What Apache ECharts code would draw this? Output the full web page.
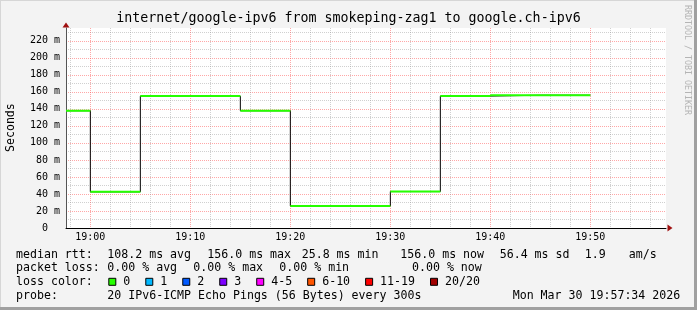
<!DOCTYPE html>
<html>
<head>
<meta charset="utf-8">
<script src="https://cdn.jsdelivr.net/npm/echarts@6.0.0/dist/echarts.min.js"></script>
<style>
html,body{margin:0;padding:0;background:#f3f3f3;}
#chart{width:697px;height:310px;}
</style>
</head>
<body>
<div id="chart"></div>
<script>
// ---------- data ----------
const titleText = 'internet/google-ipv6 from smokeping-zag1 to google.ch-ipv6';
const startTime = '18:57:34';
const endTime = '19:57:34';
const stepSeconds = 300;
const sampleTimes = ['19:00','19:05','19:10','19:15','19:20','19:25','19:30','19:35','19:40','19:45','19:50'];
const medianMs    = [137.8, 42.5, 155.0, 155.0, 137.8, 25.8, 25.8, 42.8, 155.0, 156.0, 156.0];
const xTickLabels = ['19:00','19:10','19:20','19:30','19:40','19:50'];
const yTickLabels = [0,20,40,60,80,100,120,140,160,180,200,220];
const yMax = 235;
const rttLegend  = ['median rtt:','108.2 ms avg','156.0 ms max','25.8 ms min','156.0 ms now','56.4 ms sd','1.9','am/s'];
const lossLegend = ['packet loss:','0.00 % avg','0.00 % max','0.00 % min','0.00 % now'];
const lossLabels = ['0','1','2','3','4-5','6-10','11-19','20/20'];
const lossColors = ['#26ff00','#00b8ff','#0059ff','#7e00ff','#ff00ff','#ff5500','#ff0000','#a10000'];
const probeLegend = ['probe:','20 IPv6-ICMP Echo Pings (56 Bytes) every 300s','Mon Mar 30 19:57:34 2026'];

// ---------- layout ----------
const MONO = "'DejaVu Sans Mono', monospace";
const rttX   = [16,107.3,207.3,301.7,400.3,499.7,584.7,628.7];
const lossX  = [16,107.3,193.3,279.3,412];
const probeX = [16,107.3,512.7];
const rowY = [255,268.3,282.3,296];
const legendFont = 11.6;
const charW = legendFont*0.602;

const toSec = s => { const p = s.split(':').map(Number); return p[0]*3600 + p[1]*60 + (p[2]||0); };
const fmt = v => { const h = Math.floor(v/3600), m = Math.round((v%3600)/60); return String(h).padStart(2,'0')+':'+String(m).padStart(2,'0'); };

const t0 = toSec(startTime), t1 = toSec(endTime);
const black = [], green = [];
sampleTimes.forEach((t,i)=>{
  const e = toSec(t), s = Math.max(e - stepSeconds, t0);
  black.push([s, medianMs[i]], [e, medianMs[i]]);
  green.push([s, medianMs[i]], [e, medianMs[i]], [e, null]);
});
const minorStep = 120;
const xMinor = [];
for (let v = Math.ceil(t0/minorStep)*minorStep; v < t1; v += minorStep) xMinor.push(v);
const xMajor = xTickLabels.map(toSec);
const yMinor = [];
for (let v = 0; v < yMax; v += 10) yMinor.push(v);

const MINOR = 'rgba(150,150,150,0.45)';
const MAJOR = 'rgba(255,80,80,0.5)';
const xColors = xMinor.map(v => (xMajor.indexOf(v) >= 0 ? MAJOR : MINOR));
const yColors = yMinor.map(v => (yTickLabels.indexOf(v) >= 0 ? MAJOR : MINOR));

// ---------- graphics ----------
const graphics = [];
const addText = (text, x, y, opts) => graphics.push(Object.assign({
  type:'text', x, y, silent:true,
  style:{text, font: legendFont+'px '+MONO, fill:'#000', textAlign:'left', textVerticalAlign:'middle'}
}, opts||{}));
rttLegend.forEach((t,i)=>addText(t, rttX[i], rowY[0]));
lossLegend.forEach((t,i)=>addText(t, lossX[i], rowY[1]));
probeLegend.forEach((t,i)=>addText(t, probeX[i], rowY[3]));
addText(lossLegend.length ? 'loss color:' : '', 16, rowY[2]);
let sx = 108.3;
lossLabels.forEach((lab,i)=>{
  graphics.push({type:'rect', silent:true, shape:{x:sx+0.5, y:rowY[2]-4, width:7, height:7},
    style:{fill:lossColors[i], stroke:'#000', lineWidth:1}});
  addText(lab, sx+15, rowY[2]);
  sx += 15 + lab.length*charW + 15;
});
graphics.push({type:'text', x:11, y:127.6, rotation:Math.PI/2, silent:true,
  style:{text:'Seconds', font:legendFont+'px '+MONO, fill:'#000', textAlign:'center', textVerticalAlign:'middle'}});
graphics.push({type:'text', x:687.5, y:60, rotation:-Math.PI/2, silent:true,
  style:{text:'RRDTOOL / TOBI OETIKER', font:'8.3px '+MONO, fill:'#b4b4b4', textAlign:'center', textVerticalAlign:'middle'}});
// frame
graphics.push({type:'rect', silent:true, z:100, shape:{x:0,y:0,width:697,height:1}, style:{fill:'#d6d6d6'}});
graphics.push({type:'rect', silent:true, z:100, shape:{x:0,y:0,width:1,height:310}, style:{fill:'#d6d6d6'}});
graphics.push({type:'rect', silent:true, z:100, shape:{x:0,y:307,width:697,height:3}, style:{fill:'#a0a0a0'}});
graphics.push({type:'rect', silent:true, z:100, shape:{x:694,y:0,width:3,height:310}, style:{fill:'#a0a0a0'}});

const chart = echarts.init(document.getElementById('chart'), null, {renderer:'canvas'});
chart.setOption({
  animation:false,
  backgroundColor:'#f3f3f3',
  title:{text:titleText, left:'center', top:11, padding:0,
    textStyle:{fontFamily:MONO, fontSize:13.3, fontWeight:'normal', color:'#000', lineHeight:16}},
  grid:{left:66, right:31, top:28, bottom:82, show:true, backgroundColor:'#fff', borderWidth:0, containLabel:false},
  xAxis:[{
    type:'value', min:t0, max:t1,
    axisLine:{show:true, onZero:false, lineStyle:{color:'#000', width:1}},
    axisTick:{show:false, customValues:xMinor},
    axisLabel:{customValues:xMajor, formatter:fmt, fontFamily:MONO, fontSize:10, color:'#000', margin:4},
    splitLine:{show:true, lineStyle:{color:xColors, type:[1,1], width:1}}
  },{
    type:'value', min:t0, max:t1, position:'bottom',
    axisLine:{show:true, onZero:false, symbol:['none','triangle'], symbolSize:[7,5], symbolOffset:[0,4],
      lineStyle:{color:'#a01010', width:0}},
    axisTick:{show:false}, axisLabel:{show:false}, splitLine:{show:false}
  }],
  yAxis:[{
    type:'value', min:0, max:yMax,
    axisLine:{show:true, onZero:false, lineStyle:{color:'#555', width:1}},
    axisTick:{show:false, customValues:yMinor},
    axisLabel:{customValues:yTickLabels, formatter:v => (v === 0 ? '0  ' : v + ' m'),
      fontFamily:MONO, fontSize:10, color:'#000', margin:6},
    splitLine:{show:true, lineStyle:{color:yColors, type:[1,1], width:1}}
  },{
    type:'value', min:0, max:yMax, position:'left',
    axisLine:{show:true, onZero:false, symbol:['none','triangle'], symbolSize:[7,5], symbolOffset:[0,3],
      lineStyle:{color:'#a01010', width:0}},
    axisTick:{show:false}, axisLabel:{show:false}, splitLine:{show:false}
  }],
  series:[
    {type:'line', data:black, showSymbol:false, symbol:'none', z:2,
      lineStyle:{color:'#000', width:1}, silent:true},
    {type:'line', data:green, showSymbol:false, symbol:'none', z:3, connectNulls:false,
      lineStyle:{color:lossColors[0], width:2}, silent:true}
  ],
  graphic:graphics
});
</script>
</body>
</html>
